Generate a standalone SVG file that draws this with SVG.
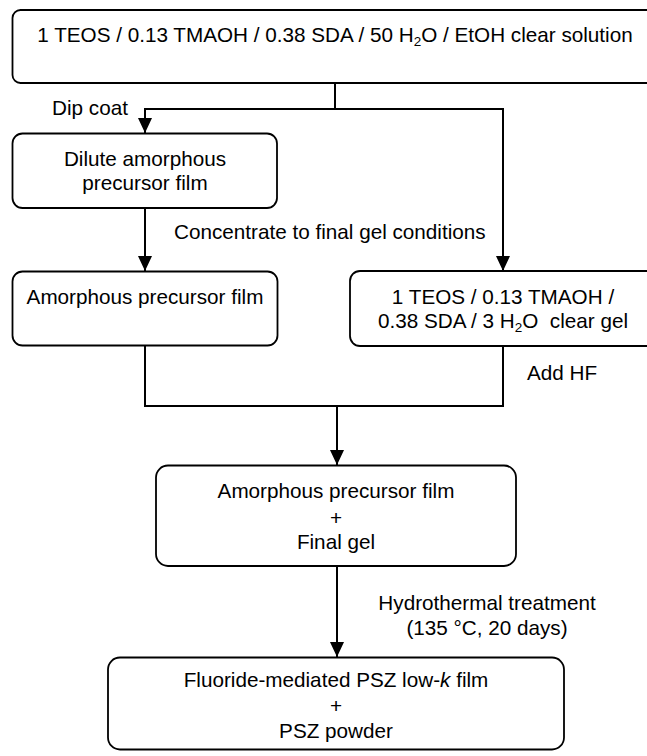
<svg xmlns="http://www.w3.org/2000/svg" width="647" height="756" viewBox="0 0 647 756">
<style>
.box{fill:#fff;stroke:#000;stroke-width:1.8}
.con{fill:none;stroke:#000;stroke-width:2}
text{font-family:"Liberation Sans",Arial,sans-serif;font-size:20.7px;fill:#000}
.c{text-anchor:middle}
.sub{font-size:13.5px}
</style>
<defs>
<marker id="arr" markerUnits="userSpaceOnUse" markerWidth="15" markerHeight="14" refX="15" refY="7" orient="auto">
<path d="M0,0 L15,7 L0,14 z" fill="#000"/>
</marker>
</defs>
<rect width="647" height="756" fill="#fff"/>
<g id="connectors">
<path class="con" d="M335,83 V109"/>
<path class="con" d="M335,109 H145 V133" marker-end="url(#arr)"/>
<path class="con" d="M335,109 H503 V271" marker-end="url(#arr)"/>
<path class="con" d="M145,208 V271" marker-end="url(#arr)"/>
<path class="con" d="M145,346 V406 H503 V346"/>
<path class="con" d="M337,406 V465" marker-end="url(#arr)"/>
<path class="con" d="M337,566 V657" marker-end="url(#arr)"/>
</g>
<g id="n_solution">
<rect class="box" x="12.5" y="10" width="646" height="73" rx="8"/>
<text class="c" x="335" y="42">1 TEOS / 0.13 TMAOH / 0.38 SDA / 50 H<tspan class="sub" dy="4">2</tspan><tspan dy="-4">O / EtOH clear solution</tspan></text>
</g>
<g id="l_dip"><text x="52" y="115">Dip coat</text></g>
<g id="n_dilute">
<rect class="box" x="12.5" y="133.5" width="264.5" height="74.5" rx="10"/>
<text class="c" x="145" y="166">Dilute amorphous</text>
<text class="c" x="145" y="190">precursor film</text>
</g>
<g id="l_conc"><text x="174" y="239">Concentrate to final gel conditions</text></g>
<g id="n_film">
<rect class="box" x="12.5" y="271.5" width="265" height="74" rx="10"/>
<text class="c" x="145" y="304">Amorphous precursor film</text>
</g>
<g id="n_gel">
<rect class="box" x="350" y="271" width="310" height="75" rx="10"/>
<text class="c" x="503" y="304">1 TEOS / 0.13 TMAOH /</text>
<text class="c" x="503" y="328" xml:space="preserve">0.38 SDA / 3 H<tspan class="sub" dy="4">2</tspan><tspan dy="-4">O  clear gel</tspan></text>
</g>
<g id="l_hf"><text x="527" y="380">Add HF</text></g>
<g id="n_mix">
<rect class="box" x="156" y="465.5" width="360" height="100.5" rx="12"/>
<text class="c" x="336" y="498">Amorphous precursor film</text>
<text class="c" x="336" y="525">+</text>
<text class="c" x="336" y="549">Final gel</text>
</g>
<g id="l_hydro">
<text class="c" x="487" y="610">Hydrothermal treatment</text>
<text class="c" x="487" y="635">(135 °C, 20 days)</text>
</g>
<g id="n_final">
<rect class="box" x="108" y="657.5" width="456" height="92" rx="12"/>
<text class="c" x="336" y="687">Fluoride-mediated PSZ low-<tspan font-style="italic">k</tspan> film</text>
<text class="c" x="336" y="713">+</text>
<text class="c" x="336" y="738">PSZ powder</text>
</g>
</svg>
